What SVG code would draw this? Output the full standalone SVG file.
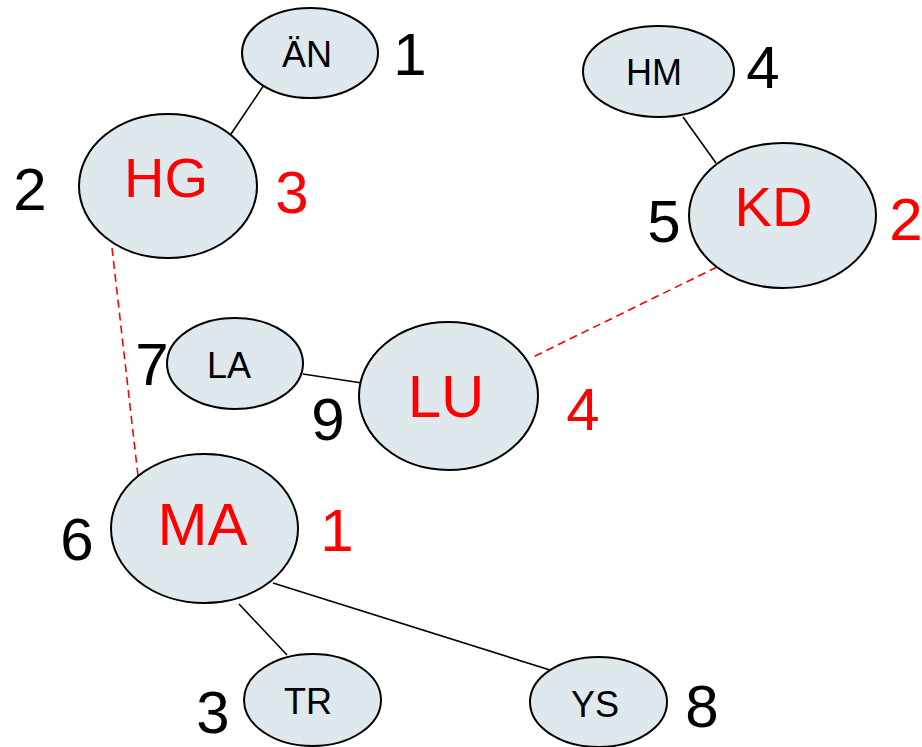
<svg xmlns="http://www.w3.org/2000/svg" width="922" height="747" viewBox="0 0 922 747">
<style>
.n{fill:#dfe9ed;stroke:#000;stroke-width:2}
text{font-family:"Liberation Sans",Arial,sans-serif;text-anchor:middle}
.s{font-size:36px;fill:#000}
.b{font-size:56px;fill:#f00}
.num{font-size:60px;fill:#000}
.rn{font-size:60px;fill:#f00}
.e{stroke:#000;stroke-width:1.6;fill:none}
.d{stroke:#f00;stroke-width:1.6;stroke-dasharray:8 5;fill:none}
</style>
<rect width="922" height="747" fill="#fff"/>
<g id="connectors">
<line class="e" x1="266" y1="82" x2="231" y2="134"/>
<line class="e" x1="683" y1="117" x2="716" y2="163"/>
<line class="e" x1="303" y1="374" x2="362" y2="383"/>
<line class="e" x1="239" y1="604" x2="287" y2="655"/>
<line class="e" x1="273" y1="583" x2="550" y2="670"/>
<line class="d" x1="112" y1="248" x2="138" y2="476"/>
<line class="d" x1="717" y1="267" x2="533" y2="357"/>
</g>
<g id="node-AN">
<ellipse class="n" cx="310" cy="53" rx="68" ry="45"/>
<text class="s" x="307" y="67">ÄN</text>
<text class="num" x="410" y="75">1</text>
</g>
<g id="node-HG">
<ellipse class="n" cx="168" cy="186" rx="89" ry="72"/>
<text class="b" x="166" y="197">HG</text>
<text class="num" x="30" y="210">2</text>
<text class="rn" x="292" y="213">3</text>
</g>
<g id="node-HM">
<ellipse class="n" cx="658.5" cy="71.5" rx="75.5" ry="45.5"/>
<text class="s" x="654" y="85">HM</text>
<text class="num" x="763" y="88">4</text>
</g>
<g id="node-KD">
<ellipse class="n" cx="782.5" cy="215.5" rx="93.5" ry="72.5"/>
<text class="b" x="773.5" y="226">KD</text>
<text class="num" x="664" y="242">5</text>
<text class="rn" x="906" y="240">2</text>
</g>
<g id="node-LA">
<ellipse class="n" cx="235" cy="363.5" rx="68" ry="45.5"/>
<text class="s" x="229" y="378">LA</text>
<text class="num" x="152" y="385">7</text>
</g>
<g id="node-LU">
<ellipse class="n" cx="448.5" cy="396" rx="89.5" ry="74"/>
<text class="b" x="446" y="417" style="font-size:60px">LU</text>
<text class="num" x="328" y="440">9</text>
<text class="rn" x="583" y="430">4</text>
</g>
<g id="node-MA">
<ellipse class="n" cx="204.5" cy="528.5" rx="93.5" ry="74.5"/>
<text class="b" x="202.5" y="545" style="font-size:60px">MA</text>
<text class="num" x="77" y="560">6</text>
<text class="rn" x="337" y="551">1</text>
</g>
<g id="node-TR">
<ellipse class="n" cx="312.5" cy="700" rx="68.5" ry="46"/>
<text class="s" x="308" y="714">TR</text>
<text class="num" x="213" y="733">3</text>
</g>
<g id="node-YS">
<ellipse class="n" cx="598.5" cy="702" rx="68.5" ry="45"/>
<text class="s" x="595" y="717">YS</text>
<text class="num" x="702" y="727">8</text>
</g>
</svg>
